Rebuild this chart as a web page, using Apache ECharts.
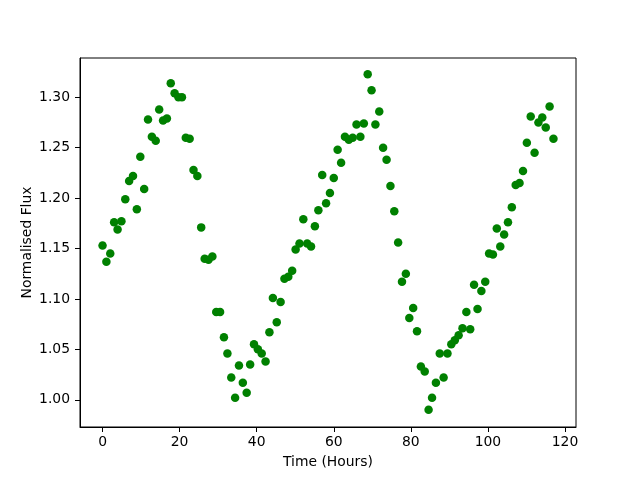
<!DOCTYPE html>
<html>
<head>
<meta charset="utf-8">
<script src="https://cdn.jsdelivr.net/npm/echarts@6/dist/echarts.min.js"></script>
<style>
	html, body { margin: 0; padding: 0; background: #fff; }
	#main { width: 640px; height: 480px; }
</style>
</head>
<body>
<div id="main"></div>
<script>
	// observation times (hours)
	var hours = [
		0.0, 1.0, 2.0, 3.0, 3.9, 4.9, 5.9, 6.9, 7.9, 8.9,
		9.8, 10.8, 11.8, 12.8, 13.8, 14.7, 15.7, 16.7, 17.7, 18.7,
		19.7, 20.6, 21.6, 22.6, 23.6, 24.6, 25.6, 26.5, 27.5, 28.5,
		29.5, 30.5, 31.5, 32.4, 33.4, 34.4, 35.4, 36.4, 37.4, 38.3,
		39.3, 40.3, 41.3, 42.3, 43.3, 44.2, 45.2, 46.2, 47.2, 48.2,
		49.2, 50.1, 51.1, 52.1, 53.1, 54.1, 55.1, 56.0, 57.0, 58.0,
		59.0, 60.0, 61.0, 61.9, 62.9, 63.9, 64.9, 65.9, 66.9, 67.8,
		68.8, 69.8, 70.8, 71.8, 72.8, 73.7, 74.7, 75.7, 76.7, 77.7,
		78.7, 79.6, 80.6, 81.6, 82.6, 83.6, 84.6, 85.5, 86.5, 87.5,
		88.5, 89.5, 90.5, 91.4, 92.4, 93.4, 94.4, 95.4, 96.4, 97.3,
		98.3, 99.3, 100.3, 101.3, 102.3, 103.2, 104.2, 105.2, 106.2, 107.2,
		108.2, 109.1, 110.1, 111.1, 112.1, 113.1, 114.1, 115.0, 116.0, 117.0
	];
	// normalised flux
	var flux = [
		1.153, 1.137, 1.145, 1.176, 1.169, 1.177, 1.199, 1.217, 1.222, 1.189,
		1.241, 1.209, 1.278, 1.261, 1.257, 1.288, 1.277, 1.279, 1.314, 1.304,
		1.300, 1.300, 1.260, 1.259, 1.228, 1.222, 1.171, 1.140, 1.139, 1.142,
		1.087, 1.087, 1.062, 1.046, 1.022, 1.002, 1.034, 1.017, 1.007, 1.035,
		1.055, 1.050, 1.046, 1.038, 1.067, 1.101, 1.077, 1.097, 1.120, 1.122,
		1.128, 1.149, 1.155, 1.179, 1.155, 1.152, 1.172, 1.188, 1.223, 1.195,
		1.205, 1.220, 1.248, 1.235, 1.261, 1.258, 1.260, 1.273, 1.261, 1.274,
		1.323, 1.307, 1.273, 1.286, 1.250, 1.238, 1.212, 1.187, 1.156, 1.117,
		1.125, 1.081, 1.091, 1.068, 1.033, 1.028, 0.990, 1.002, 1.017, 1.046,
		1.022, 1.046, 1.055, 1.059, 1.064, 1.071, 1.087, 1.070, 1.114, 1.090,
		1.108, 1.117, 1.145, 1.144, 1.170, 1.152, 1.164, 1.176, 1.191, 1.213,
		1.215, 1.227, 1.255, 1.281, 1.245, 1.275, 1.280, 1.270, 1.291, 1.259
	];
	var xTicks = [0, 20, 40, 60, 80, 100, 120];
	var yTicks = [1.00, 1.05, 1.10, 1.15, 1.20, 1.25, 1.30];

	var points = [];
	for (var i = 0; i < hours.length; i++) {
		points.push([hours[i], flux[i]]);
	}

	var font = 'DejaVu Sans';
	var chart = echarts.init(document.getElementById('main'), null, { renderer: 'canvas' });

	chart.setOption({
		animation: false,
		backgroundColor: '#fff',
		grid: {
			left: 80, right: 64, top: 58, bottom: 53,
			show: true, borderColor: '#000', borderWidth: 1, backgroundColor: 'transparent'
		},
		xAxis: {
			type: 'value',
			min: -5.85,
			max: 122.85,
			name: 'Time (Hours)',
			nameLocation: 'middle',
			nameGap: 28,
			nameMoveOverlap: false,
			nameTextStyle: { fontFamily: font, fontSize: 13.9, color: '#000' },
			splitLine: { show: false },
			axisLine: { show: true, onZero: false, lineStyle: { color: '#000', width: 1 } },
			axisTick: { show: true, inside: false, length: 5, customValues: xTicks, lineStyle: { color: '#000' } },
			axisLabel: {
				customValues: xTicks, margin: 8, color: '#000', fontFamily: font, fontSize: 13.9,
				formatter: function (v) { return String(v); }
			}
		},
		yAxis: {
			type: 'value',
			min: 0.973,
			max: 1.339,
			name: 'Normalised Flux',
			nameLocation: 'middle',
			nameGap: 46,
			nameMoveOverlap: false,
			nameTextStyle: { fontFamily: font, fontSize: 13.9, color: '#000' },
			splitLine: { show: false },
			axisLine: { show: true, onZero: false, lineStyle: { color: '#000', width: 1 } },
			axisTick: { show: true, inside: false, length: 5, customValues: yTicks, lineStyle: { color: '#000' } },
			axisLabel: {
				customValues: yTicks, margin: 10, color: '#000', fontFamily: font, fontSize: 13.9,
				formatter: function (v) { return v.toFixed(2); }
			}
		},
		series: [{
			type: 'scatter',
			data: points,
			symbol: 'circle',
			symbolSize: 8.5,
			itemStyle: { color: '#008000', opacity: 1 }
		}]
	});
</script>
</body>
</html>
